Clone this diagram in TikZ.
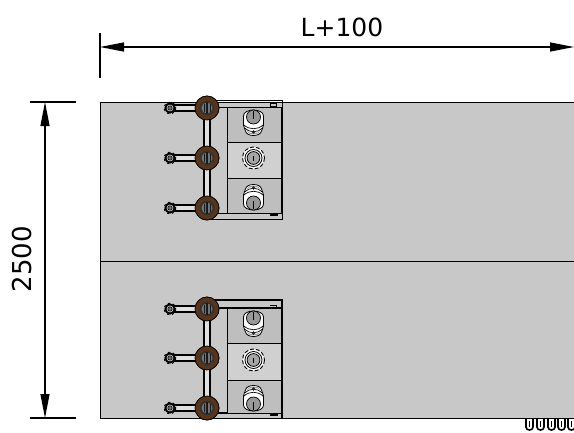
\documentclass[tikz,border=0pt]{standalone}
\usepackage{fontspec}
\setmainfont{DejaVu Sans}
\usetikzlibrary{arrows.meta}
\definecolor{panel}{HTML}{C8C8C8}
\definecolor{celld}{HTML}{BEBEBE}
\definecolor{celll}{HTML}{D0D0D0}
\definecolor{brownnut}{HTML}{5A3418}
\tikzset{
  x=1pt,y=-1pt,
  dim/.style={line width=1.2pt,{Triangle[length=24pt,width=9pt]}-{Triangle[length=24pt,width=9pt]}},
  ext/.style={line width=1.1pt},
  lbl/.style={font=\fontsize{25}{25}\selectfont,inner sep=0pt},
  nut/.style={circle,draw=black,line width=.7pt,fill=brownnut,minimum size=24pt,inner sep=0pt},
  tip/.style={circle,draw=black,line width=1.8pt,fill=panel!70!white,minimum size=9pt,inner sep=0pt},
  pipe/.style={line width=8pt,draw=black},
  pipein/.style={line width=4.4pt,draw=white!88!black},
  frm/.style={draw=black,line width=1pt},
  pics/hub/.style={code={
    \fill[black!80] (0,0) circle (7.5);
    \fill[black!55] (0,0) circle (5.5);
    \draw[black!90,line width=1.5pt] (0,-6) -- (0,6);
    \draw[black!90,line width=.6pt] (-3,-4) -- (-3,4) (3,-4) -- (3,4);
  }},
  pics/eye/.style={code={
    \fill[black!55] (0,0) circle (2.2);
    \draw[black,line width=.6pt] (0,0) circle (2.2);
  }},
  pics/bulb/.style={code={
    \draw[black,line width=.8pt,fill=white] (-10,-5) .. controls (-10,-13) and (10,-13) .. (10,-5) -- (10,4) .. controls (10,7) and (8,8) .. (8,10) .. controls (7,16) and (-7,16) .. (-8,10) .. controls (-8,8) and (-10,7) .. (-10,4) -- cycle;
    \fill[black!40] (0,-4) circle (7);
    \draw[black,line width=.7pt] (0,-4) circle (7);
    \draw[black,line width=.7pt] (-9.5,4) .. controls (-4,9) and (4,9) .. (9.5,4);
    \draw[black,line width=.7pt] (-9,7) .. controls (-4,12) and (4,12) .. (9,7);
    \fill[black!40] (-7,10) .. controls (-3,13) and (3,13) .. (7,10) .. controls (6,14.5) and (-6,14.5) .. (-7,10) -- cycle;
    \fill[black!85] (0,11) circle (1.8);
    \draw[black,line width=1.6pt] (0,-10) -- (0,-2);
  }},
  pics/ring/.style={code={
    \draw[black,dash pattern=on 4pt off 2pt,line width=.9pt,fill=white] (0,0) circle (11);
    \draw[black,line width=.8pt,fill=white] (0,0) circle (8.5);
    \fill[black!35] (0,0) circle (6.4);
    \draw[black,line width=.8pt] (0,0) circle (6.4);
    \draw[black,line width=1.4pt] (0,-2.5) -- (0,2.5);
  }},
  pics/term/.style={code={
    \draw[black,line width=1.6pt,fill=white] (-3.5,0) -- (-3.5,9) .. controls (-3.5,13) and (3.5,13) .. (3.5,9) -- (3.5,0);
    \draw[black,line width=1pt] (0,3) -- (0,9);
  }},
}
\begin{document}
\begin{tikzpicture}
\useasboundingbox (0,0) rectangle (574,432);
\fill[white] (0,0) rectangle (574,432);

% terminals below the panel
\foreach \tx in {529.5,540.5,551.5,561.5,571.5}
  \pic at (\tx,418) {term};

% panel
\path[draw=black,line width=1pt,fill=panel] (574,102) -- (100,102) -- (100,418) -- (574,418);
\draw[black,line width=1pt] (100,261) -- (574,261);

% upper frame and cells
\draw[frm] (206,100) -- (282,100) -- (282,219) -- (206,219);
\draw[frm] (206,107) -- (281,107);
\draw[frm] (206,213) -- (281,213);
\fill[celld] (227,107) rectangle (281,142);
\fill[celll] (227,142) rectangle (281,178);
\fill[celld] (227,178) rectangle (281,213);
\draw[frm] (227,107) rectangle (281,213);
\draw[frm] (227,142) -- (281,142) (227,178) -- (281,178);
\draw[black,line width=.6pt,fill=panel] (270,103.5) rectangle (276,106.5);
\fill[black] (270,213) rectangle (278,216);
\pic at (253.5,121) {bulb};
\pic at (253.5,158) {ring};
\pic[yscale=-1] at (253.5,199) {bulb};

% lower frame and cells
\draw[frm,line width=1.3pt] (206,300) -- (282,300) -- (282,418);
\draw[frm,line width=1.3pt] (206,308) -- (281,308);
\draw[frm,line width=1.3pt] (206,413) -- (281,413);
\fill[celld] (227,308) rectangle (281,343);
\fill[celll] (227,343) rectangle (281,380);
\fill[celld] (227,380) rectangle (281,413);
\draw[frm] (227,308) rectangle (281,413);
\draw[frm] (227,343) -- (281,343) (227,380) -- (281,380);
\draw[black,line width=.8pt] (270,305) -- (276,305) -- (276,308);
\fill[black] (270,413) rectangle (278,416);
\pic at (253.5,322) {bulb};
\pic at (253.5,360) {ring};
\pic[yscale=-1] at (253.5,400) {bulb};

% fittings
\foreach \p/\a/\b/\c in {u/108/158/208,l/309/358/408}{
  \node[nut] (\p n1) at (207,\a) {};
  \node[nut] (\p n2) at (207,\b) {};
  \node[nut] (\p n3) at (207,\c) {};
  \node[tip] (\p t1) at (170,\a) {};
  \node[tip] (\p t2) at (170,\b) {};
  \node[tip] (\p t3) at (170,\c) {};
  \draw[pipe] (\p n1.center) -- (\p n2.center);
  \draw[pipe] (\p n2.center) -- (\p n3.center);
  \draw[pipein] (\p n1.center) -- (\p n2.center);
  \draw[pipein] (\p n2.center) -- (\p n3.center);
  \foreach \i in {1,2,3}{
    \draw[pipe] (\p t\i.center) -- (\p n\i.center);
    \draw[pipein] (\p t\i.center) -- (\p n\i.center);
    \node[nut] at (\p n\i) {};
    \pic at (\p n\i) {hub};
    \node[tip] at (\p t\i) {};
    \draw[black,line width=.9pt,dash pattern=on 2pt off 3pt] (\p t\i) circle (5.8);
    \pic at (\p t\i) {eye};
  }
}

% dimensions
\coordinate (hl) at (100,47);
\coordinate (hr) at (574,47);
\coordinate (vt) at (45,102);
\coordinate (vb) at (45,418);
\coordinate (e1a) at (100,33);
\coordinate (e1b) at (100,78);
\coordinate (e2a) at (30,102);
\coordinate (e2b) at (76,102);
\coordinate (e3a) at (30,418);
\coordinate (e3b) at (76,418);
\draw[ext] (e1a) -- (e1b);
\draw[ext] (e2a) -- (e2b);
\draw[ext] (e3a) -- (e3b);
\draw[dim] (hl) -- (hr);
\draw[dim] (vt) -- (vb);
\node[lbl] (wlabel) at (342,27) {L+100};
\node[lbl,rotate=90,font=\fontsize{26}{26}\selectfont] (hlabel) at (22,259) {2500};
\end{tikzpicture}
\end{document}
